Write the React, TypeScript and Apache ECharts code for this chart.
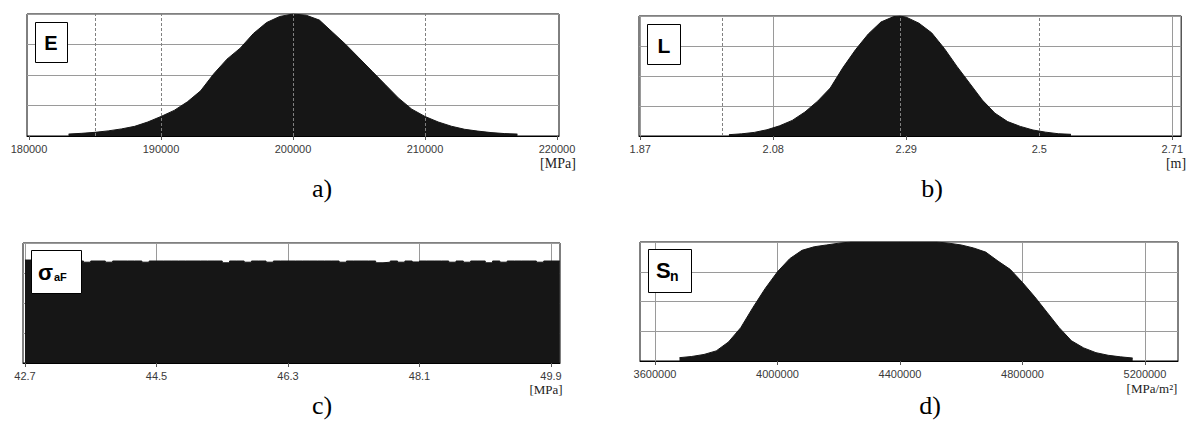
import React, { useEffect, useRef } from 'react';
import * as echarts from 'echarts';

// Panel a) E [MPa]
const eX = [183000, 184000, 185000, 186000, 187000, 188000, 189000, 190000, 191000, 192000, 193000, 194000, 195000, 196000, 197000, 198000, 199000, 200000, 201000, 202000, 203000, 204000, 205000, 206000, 207000, 208000, 209000, 210000, 211000, 212000, 213000, 214000, 215000, 216000, 217000];
const eY = [1.6, 2.2, 3.0, 4.2, 5.8, 7.9, 11.5, 16, 21, 28, 37, 51, 63, 72, 84, 93, 98, 100, 99, 95, 85, 75, 64, 53, 42, 31, 22, 16, 11.5, 8, 5.5, 4, 2.8, 2, 1.6];
const eTicks = [180000, 190000, 200000, 210000, 220000];
const eDashed = [185000, 190000, 200000, 210000];

// Panel b) L [m]
const lX = [2.01, 2.03, 2.05, 2.07, 2.09, 2.11, 2.13, 2.15, 2.17, 2.19, 2.21, 2.23, 2.25, 2.27, 2.28, 2.29, 2.31, 2.33, 2.35, 2.37, 2.39, 2.41, 2.43, 2.45, 2.47, 2.49, 2.51, 2.53, 2.55];
const lY = [1.1, 1.8, 3.0, 5.2, 8.5, 13, 20, 29, 40, 57, 72, 85, 95, 99.5, 100, 99, 94, 86, 73, 58, 44, 30, 19, 12, 8, 5, 3.2, 1.9, 1.4];
const lTicks = [1.87, 2.08, 2.29, 2.5, 2.71];
const lGridLines = [1.87, 2.08, 2.29, 2.71];
const lDashed = [2.0, 2.28, 2.5];

// Panel c) sigma_aF [MPa]
const cX = [42.7, 42.8, 42.9, 43.0, 43.1, 43.2, 43.3, 43.4, 43.5, 43.6, 43.7, 43.8, 43.9, 44.0, 44.1, 44.2, 44.3, 44.4, 44.5, 44.6, 44.7, 44.8, 44.9, 45.0, 45.1, 45.2, 45.3, 45.4, 45.5, 45.6, 45.7, 45.8, 45.9, 46.0, 46.1, 46.2, 46.3, 46.4, 46.5, 46.6, 46.7, 46.8, 46.9, 47.0, 47.1, 47.2, 47.3, 47.4, 47.5, 47.6, 47.7, 47.8, 47.9, 48.0, 48.1, 48.2, 48.3, 48.4, 48.5, 48.6, 48.7, 48.8, 48.9, 49.0, 49.1, 49.2, 49.3, 49.4, 49.5, 49.6, 49.7, 49.8, 49.9, 50.02];
const cY = [85.8, 85, 85, 85, 85, 85, 85, 85, 84, 85, 85, 84, 85, 85, 85, 85, 84, 85, 85, 85, 85, 85, 85, 85, 85, 85, 85, 83.5, 85, 85, 84, 85, 85, 84, 85, 85, 85, 85, 85, 85, 85, 85, 85, 84, 85, 85, 85, 85, 83.5, 84, 85, 84, 85, 84.2, 85, 85, 85, 85, 84, 85, 84, 85, 85, 83.5, 85, 84, 85, 85, 85, 85, 84, 85, 85, 85];
const cTicks = [42.7, 44.5, 46.3, 48.1, 49.9];

// Panel d) S_n [MPa/m2]
const dX = [3680000, 3720000, 3760000, 3800000, 3840000, 3880000, 3920000, 3960000, 4000000, 4040000, 4080000, 4120000, 4160000, 4200000, 4240000, 4280000, 4320000, 4360000, 4400000, 4440000, 4480000, 4520000, 4560000, 4600000, 4640000, 4680000, 4720000, 4760000, 4800000, 4840000, 4880000, 4920000, 4960000, 5000000, 5040000, 5080000, 5120000, 5160000];
const dY = [2.8, 3.8, 5.5, 8.5, 16, 28, 45, 61, 75, 86, 93, 96, 97.5, 99, 100, 100, 100, 100, 100, 100, 100, 100, 99, 97.5, 95, 91.5, 84, 77, 66, 54, 41, 28, 17, 11, 7, 4.8, 3.5, 2.5];
const dTicks = [3600000, 4000000, 4400000, 4800000, 5200000];

const FILL = '#161616';
const GRID_GRAY = '#9a9a9a';
const DASH_GRAY = '#808080';
const LABEL_FONT = 'Liberation Sans';
const SERIF = 'Liberation Serif';

function pairs(xs: number[], ys: number[]) {
  return xs.map((x, i) => [x, ys[i]]);
}

function xAxisCfg(grid: number, min: number, max: number, labels: number[], gridLines: number[], showSplit: boolean) {
  return {
    type: 'value',
    gridIndex: grid,
    min,
    max,
    axisLine: { show: true, lineStyle: { color: '#000', width: 1 } },
    axisTick: { show: true, length: 4, lineStyle: { color: '#555' }, customValues: gridLines },
    axisLabel: {
      show: true,
      customValues: labels,
      formatter: (v: number) => String(v),
      color: '#3a3a3a',
      fontSize: 11,
      fontFamily: LABEL_FONT,
      margin: 7,
    },
    splitLine: { show: showSplit, lineStyle: { color: GRID_GRAY, width: 1 } },
  };
}

function yAxisCfg(grid: number, max: number) {
  return {
    type: 'value',
    gridIndex: grid,
    min: 0,
    max,
    interval: max / 4,
    axisLine: { show: false },
    axisTick: { show: false },
    axisLabel: { show: false },
    splitLine: { show: true, lineStyle: { color: GRID_GRAY, width: 1 } },
  };
}

function areaSeries(idx: number, data: number[][], dashed: number[], step?: string) {
  const s: any = {
    type: 'line',
    xAxisIndex: idx,
    yAxisIndex: idx,
    data,
    symbol: 'none',
    lineStyle: { width: 1, color: FILL },
    areaStyle: { color: FILL, opacity: 1 },
    silent: true,
  };
  if (step) s.step = step;
  if (dashed.length) {
    s.markLine = {
      silent: true,
      symbol: ['none', 'none'],
      label: { show: false },
      lineStyle: { type: [3, 2], color: DASH_GRAY, width: 1 },
      data: dashed.map((v) => ({ xAxis: v })),
    };
  }
  return s;
}

function labelBox(x: number, y: number, w: number, h: number) {
  return {
    type: 'rect',
    z: 100,
    shape: { x: x + 0.5, y: y + 0.5, width: w, height: h },
    style: { fill: '#fff', stroke: '#000', lineWidth: 1 },
  };
}

function txt(x: number, y: number, text: string, size: number, opts: any = {}) {
  return {
    type: 'text',
    z: 101,
    x,
    y,
    style: {
      text,
      fontSize: size,
      fontWeight: opts.bold ? 'bold' : 'normal',
      fontFamily: opts.family || LABEL_FONT,
      fill: opts.color || '#000',
      align: opts.align || 'center',
      verticalAlign: 'middle',
      textAlign: opts.align || 'center',
      textVerticalAlign: 'middle',
    },
  };
}

const option: any = {
  animation: false,
  backgroundColor: '#fff',
  grid: [
    { left: 27, top: 14, width: 532, height: 122, show: true, borderColor: '#000', borderWidth: 1, backgroundColor: '#fff' },
    { left: 639, top: 16, width: 546, height: 120, show: true, borderColor: '#000', borderWidth: 1, backgroundColor: '#fff' },
    { left: 23, top: 243, width: 537, height: 120, show: true, borderColor: '#000', borderWidth: 1, backgroundColor: '#fff' },
    { left: 640, top: 242, width: 538, height: 119, show: true, borderColor: '#000', borderWidth: 1, backgroundColor: '#fff' },
  ],
  xAxis: [
    xAxisCfg(0, 179848, 220152, eTicks, eTicks, false),
    xAxisCfg(1, 1.868, 2.724, lTicks, lGridLines, true),
    xAxisCfg(2, 42.673, 50.023, cTicks, cTicks, true),
    xAxisCfg(3, 3551000, 5308000, dTicks, dTicks, true),
  ],
  yAxis: [yAxisCfg(0, 100), yAxisCfg(1, 100), yAxisCfg(2, 100), yAxisCfg(3, 100)],
  series: [
    areaSeries(0, pairs(eX, eY), eDashed),
    areaSeries(1, pairs(lX, lY), lDashed),
    areaSeries(2, pairs(cX, cY), [], 'end'),
    areaSeries(3, pairs(dX, dY), []),
  ],
  graphic: [
    labelBox(35, 22, 32, 40),
    txt(51, 43, 'E', 20, { bold: true }),
    labelBox(647, 24, 33, 40),
    txt(664, 45, 'L', 21, { bold: true }),
    labelBox(31, 250, 50, 43),
    txt(38, 272, 'σ', 22, { bold: true, align: 'left' }),
    txt(54, 277, 'aF', 11, { bold: true, align: 'left' }),
    labelBox(648, 249, 43, 43),
    txt(656, 270, 'S', 22, { bold: true, align: 'left' }),
    txt(670, 276, 'n', 14, { bold: true, align: 'left' }),
    txt(558, 163, '[MPa]', 14, { family: SERIF, color: '#222' }),
    txt(1176, 163, '[m]', 14, { family: SERIF, color: '#222' }),
    txt(546, 389, '[MPa]', 13, { family: SERIF, color: '#222' }),
    txt(1152, 388, '[MPa/m²]', 13, { family: SERIF, color: '#222' }),
    txt(322, 188, 'a)', 26, { family: SERIF }),
    txt(932, 188, 'b)', 26, { family: SERIF }),
    txt(322, 405, 'c)', 26, { family: SERIF }),
    txt(930, 405, 'd)', 26, { family: SERIF }),
  ],
};

export default function App() {
  const ref = useRef<HTMLDivElement>(null);
  useEffect(() => {
    if (!ref.current) return;
    const chart = echarts.init(ref.current, null, { renderer: 'svg' });
    chart.setOption(option);
    return () => chart.dispose();
  }, []);
  return (
    <div
      ref={ref}
      style={{ position: 'absolute', left: 0, top: 0, width: 1186, height: 421, background: '#fff' }}
    />
  );
}
